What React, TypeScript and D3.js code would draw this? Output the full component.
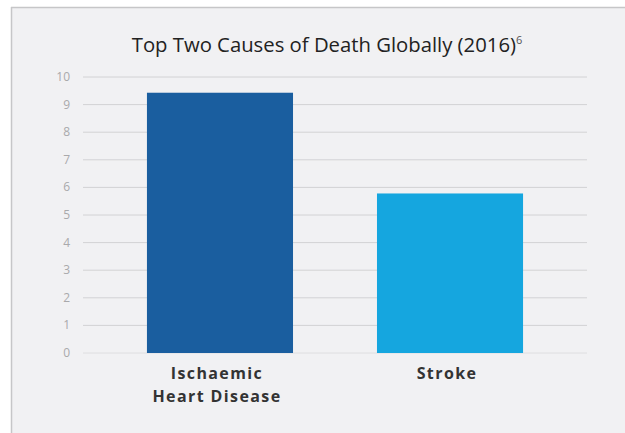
import React from 'react';
import * as d3 from 'd3';

const categories = ["Ischaemic|Heart Disease", "Stroke"];
const values = [9.43, 5.78];
const barColors = ["#1a5e9f", "#15a6df"];
const yTickValues = [0, 1, 2, 3, 4, 5, 6, 7, 8, 9, 10];

const width = 625;
const height = 433;
const marginLeft = 83;
const marginRight = 38;
const marginTop = 77;
const marginBottom = 80;
const boundedWidth = width - marginLeft - marginRight;
const boundedHeight = height - marginTop - marginBottom;

const App: React.FC = () => {
  const xScale = d3.scaleBand<string>()
    .domain(categories)
    .range([0, boundedWidth])
    .paddingInner(0.365)
    .paddingOuter(0.278);
  const yScale = d3.scaleLinear().domain([0, 10]).range([boundedHeight, 0]);

  return (
    <svg width={width} height={height}
      style={{position: "absolute", left: 0, top: 0, display: "block", fontFamily: "'Open Sans', sans-serif"}}>
      <rect width={width} height={height} fill="#ffffff"/>
      <rect x={11} y={7} width={width - 11} height={height - 7} fill="#f1f1f3"/>
      <line x1={11} x2={width} y1={7.5} y2={7.5} stroke="#c6c6c8" strokeWidth={1.5}/>
      <line x1={11.5} x2={11.5} y1={7} y2={height} stroke="#c6c6c8" strokeWidth={1.5}/>
      <text x={327} y={52} textAnchor="middle" fontSize={20.3} fill="#222">
        Top Two Causes of Death Globally (2016)
        <tspan fontSize={11} dy={-8} fill="#555">6</tspan>
      </text>
      <g transform={`translate(${marginLeft}, ${marginTop})`}>
        {yTickValues.map(v => (
          <g key={v} transform={`translate(0, ${yScale(v)})`}>
            <line x2={boundedWidth} stroke={v === 0 ? "#dedee0" : "#d2d2d4"} strokeWidth={1}/>
            <text x={-13} dy={4} textAnchor="end" fontSize={12} fill="#a9a9ab">{v}</text>
          </g>
        ))}
        {categories.map((c, i) => {
          const x = xScale(c) as number;
          return (
            <rect key={c} x={x} y={yScale(values[i])} width={xScale.bandwidth()}
              height={boundedHeight - yScale(values[i])} fill={barColors[i]}/>
          );
        })}
        {categories.map(c => {
          const cx = (xScale(c) as number) + xScale.bandwidth() / 2 - 3;
          return (
            <text key={c} x={cx} y={boundedHeight + 26} textAnchor="middle" fontSize={16}
              fontWeight="bold" letterSpacing={1.4} fill="#333">
              {c.split("|").map((line, j) => (
                <tspan key={j} x={cx} dy={j === 0 ? 0 : 23}>{line}</tspan>
              ))}
            </text>
          );
        })}
      </g>
    </svg>
  );
};

export default App;
